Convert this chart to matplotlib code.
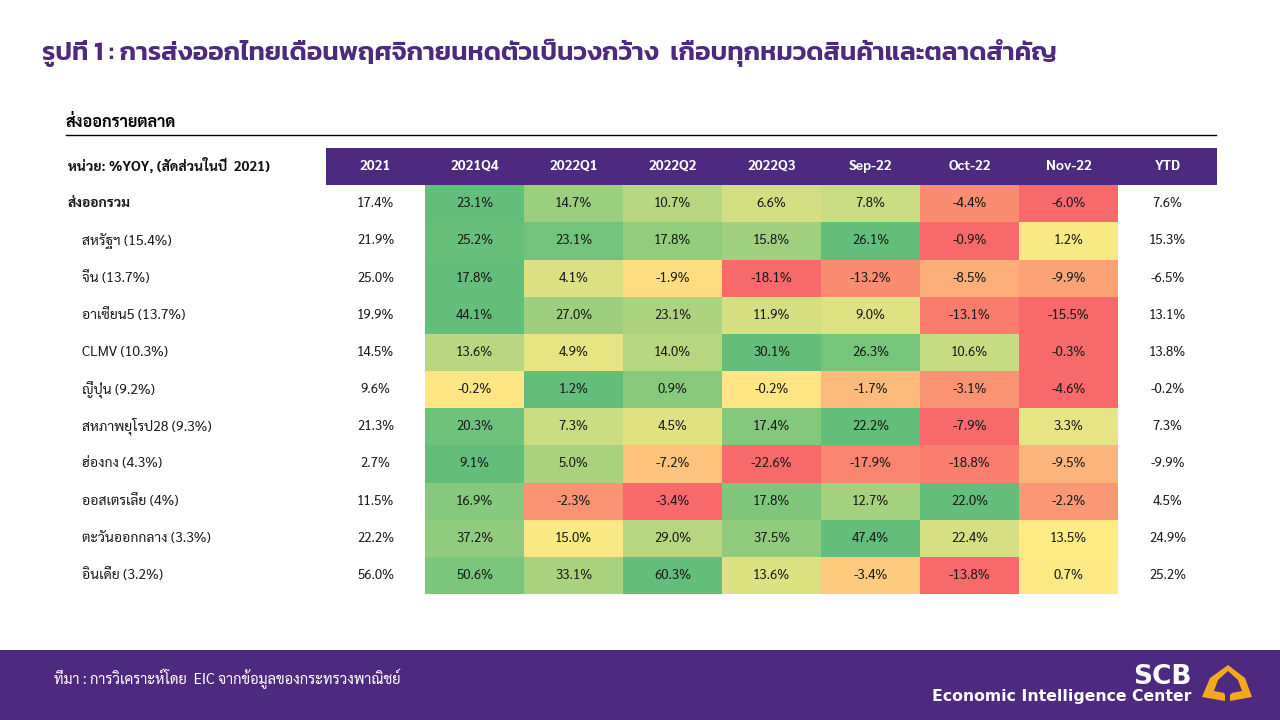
import numpy as np
import matplotlib
matplotlib.use('Agg')
import matplotlib.pyplot as plt
from matplotlib.colors import LinearSegmentedColormap, TwoSlopeNorm
from matplotlib.patches import Rectangle, Polygon

W, H = 1280, 720
PURPLE = '#4d2a7f'
BODY = ['Sarabun', 'Noto Sans Thai', 'IBM Plex Sans Thai', 'DejaVu Sans']
HEAD = ['Kanit', 'Prompt', 'IBM Plex Sans Thai', 'DejaVu Sans']
plt.rcParams['font.family'] = BODY

title = 'รูปที่ 1 : การส่งออกไทยเดือนพฤศจิกายนหดตัวเป็นวงกว้าง  เกือบทุกหมวดสินค้าและตลาดสำคัญ'
section = 'ส่งออกรายตลาด'
unit = 'หน่วย: %YOY, (สัดส่วนในปี  2021)'
source = 'ที่มา : การวิเคราะห์โดย  EIC จากข้อมูลของกระทรวงพาณิชย์'
columns = ['2021', '2021Q4', '2022Q1', '2022Q2', '2022Q3', 'Sep-22', 'Oct-22', 'Nov-22', 'YTD']
rows = ['ส่งออกรวม', 'สหรัฐฯ (15.4%)', 'จีน (13.7%)', 'อาเซียน5 (13.7%)', 'CLMV (10.3%)',
        'ญี่ปุ่น (9.2%)', 'สหภาพยุโรป28 (9.3%)', 'ฮ่องกง (4.3%)', 'ออสเตรเลีย (4%)',
        'ตะวันออกกลาง (3.3%)', 'อินเดีย (3.2%)']
year_2021 = [17.4, 21.9, 25.0, 19.9, 14.5, 9.6, 21.3, 2.7, 11.5, 22.2, 56.0]
ytd = [7.6, 15.3, -6.5, 13.1, 13.8, -0.2, 7.3, -9.9, 4.5, 24.9, 25.2]
total = [23.1, 14.7, 10.7, 6.6, 7.8, -4.4, -6.0]
usa = [25.2, 23.1, 17.8, 15.8, 26.1, -0.9, 1.2]
china = [17.8, 4.1, -1.9, -18.1, -13.2, -8.5, -9.9]
asean5 = [44.1, 27.0, 23.1, 11.9, 9.0, -13.1, -15.5]
clmv = [13.6, 4.9, 14.0, 30.1, 26.3, 10.6, -0.3]
japan = [-0.2, 1.2, 0.9, -0.2, -1.7, -3.1, -4.6]
eu28 = [20.3, 7.3, 4.5, 17.4, 22.2, -7.9, 3.3]
hongkong = [9.1, 5.0, -7.2, -22.6, -17.9, -18.8, -9.5]
australia = [16.9, -2.3, -3.4, 17.8, 12.7, 22.0, -2.2]
mideast = [37.2, 15.0, 29.0, 37.5, 47.4, 22.4, 13.5]
india = [50.6, 33.1, 60.3, 13.6, -3.4, -13.8, 0.7]
heat = [total, usa, china, asean5, clmv, japan, eu28, hongkong, australia, mideast, india]

cmap = LinearSegmentedColormap.from_list('ryg', ['#f8696b', '#ffeb84', '#63be7b'])

fig = plt.figure(figsize=(W / 100, H / 100), dpi=100, facecolor='white')

# page layer in pixel units
bg = fig.add_axes([0, 0, 1, 1])
bg.set_xlim(0, W)
bg.set_ylim(H, 0)
bg.axis('off')
bg.add_patch(Rectangle((0, 650), W, 70, fc=PURPLE, ec='none'))
bg.plot([66, 1216], [135, 135], color='black', lw=1)
bg.text(42, 52.5, title, family=HEAD, fontsize=18.9, fontweight='semibold', color=PURPLE, va='center', ha='left')
bg.text(66, 122, section, fontsize=11.7, fontweight='bold', color='black', va='center')
bg.text(68, 165, unit, fontsize=10, fontweight='bold', color='#111111', va='center')
bg.text(54, 679, source, fontsize=10.5, color='white', va='center')

# logo
bg.text(1192, 684, 'SCB', family='DejaVu Sans', fontsize=19, fontweight='bold', color='white', ha='right', va='baseline')
bg.text(1192, 701, 'Economic Intelligence Center', family='DejaVu Sans', fontsize=11.3, fontweight='bold',
        color='white', ha='right', va='baseline')
logo_x = [1225, 1202, 1210, 1228, 1245, 1252, 1230, 1230, 1232, 1242, 1238, 1228, 1218, 1214, 1224, 1225]
logo_y = [701, 697, 678, 665, 678, 697, 701, 695, 693, 691, 680, 671, 680, 691, 693, 695]
bg.add_patch(Polygon(np.column_stack([logo_x, logo_y]), closed=True, fc='#f2a91f', ec='none'))

# table layer: x in columns, y in rows (row 0 = header)
left, right, top, bottom = 326, 1217, 148, 594
ax = fig.add_axes([left / W, 1 - bottom / H, (right - left) / W, (bottom - top) / H])
ax.set_xlim(0, len(columns))
ax.set_ylim(len(rows) + 1, 0)
ax.axis('off')
ax.add_patch(Rectangle((0, 0), len(columns), 1, fc=PURPLE, ec='none'))

for j, name in enumerate(columns):
    ax.text(j + 0.5, 0.5, name, color='white', fontsize=10, fontweight='bold', ha='center', va='center')

for i, (name, vals) in enumerate(zip(rows, heat)):
    y = i + 1
    low, high = min(vals), max(vals)
    mid = max(0, low)
    norm = TwoSlopeNorm(vcenter=mid, vmin=min(low, mid - 1e-9), vmax=high)
    colours = cmap(norm(np.array(vals)))[np.newaxis, :, :]
    ax.pcolormesh(np.arange(1, 9), [y, y + 1], colours, shading='flat', antialiased=False)
    for j, v in enumerate(vals):
        ax.text(j + 1.5, y + 0.5, f'{v:.1f}%', fontsize=9.5, color='#1a1a1a', ha='center', va='center')
    ax.text(0.5, y + 0.5, f'{year_2021[i]:.1f}%', fontsize=9.5, color='#1a1a1a', ha='center', va='center')
    ax.text(8.5, y + 0.5, f'{ytd[i]:.1f}%', fontsize=9.5, color='#1a1a1a', ha='center', va='center')
    bg.text(68 if i == 0 else 82, top + (y + 0.5) * (bottom - top) / (len(rows) + 1), name,
            fontsize=10, fontweight='bold' if i == 0 else 'normal', color='#1a1a1a', va='center')

fig.savefig('out.png', dpi=100)
